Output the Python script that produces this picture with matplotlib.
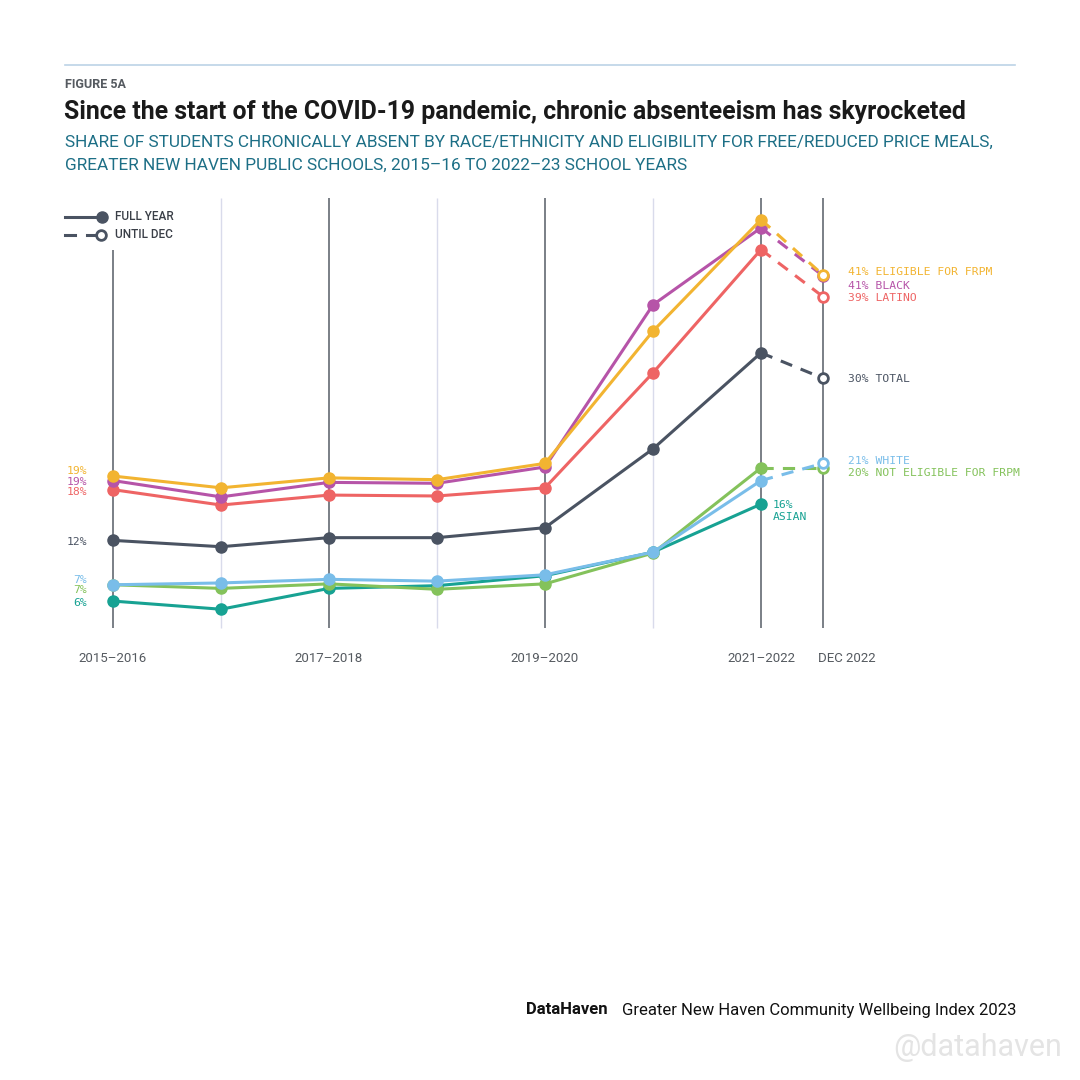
#!/usr/bin/env python3
"""Figure 5A: chronic absenteeism in Greater New Haven public schools."""

import matplotlib

matplotlib.use("Agg")
import matplotlib.pyplot as plt
from matplotlib.lines import Line2D

# ---- data -----------------------------------------------------------------
YEARS = ["2015–2016", "2016–2017", "2017–2018", "2018–2019", "2019–2020", "2020–2021", "2021–2022"]
YEAR_TICKS = ["2015–2016", "", "2017–2018", "", "2019–2020", "", "2021–2022"]
DEC_LABEL = "DEC 2022"

TOTAL = [12.1, 11.4, 12.4, 12.4, 13.5, 22.2, 32.8]
TOTAL_DEC = 30.0
FRPM_ELIGIBLE = [19.2, 17.9, 19.0, 18.8, 20.6, 35.2, 47.5]
FRPM_ELIGIBLE_DEC = 41.4
BLACK = [18.7, 16.9, 18.5, 18.4, 20.2, 38.1, 46.6]
BLACK_DEC = 41.3
LATINO = [17.7, 16.0, 17.1, 17.0, 17.9, 30.6, 44.2]
LATINO_DEC = 39.0
WHITE = [7.2, 7.4, 7.8, 7.6, 8.3, 10.8, 18.7]
WHITE_DEC = 20.6
NOT_ELIGIBLE = [7.2, 6.8, 7.3, 6.7, 7.3, 10.7, 20.1]
NOT_ELIGIBLE_DEC = 20.1
ASIAN = [5.4, 4.5, 6.8, 7.1, 8.2, 10.8, 16.1]

START_LABELS = {"total": "12%", "frpm": "19%", "black": "19%", "latino": "18%",
                "white": "7%", "not_frpm": "7%", "asian": "6%"}
END_LABELS = {"total": "30% TOTAL", "frpm": "41% ELIGIBLE FOR FRPM", "black": "41% BLACK",
              "latino": "39% LATINO", "white": "21% WHITE", "not_frpm": "20% NOT ELIGIBLE FOR FRPM",
              "asian": "16%\nASIAN"}

# ---- style ----------------------------------------------------------------
COLORS = {
    "total": "#4a5362",
    "frpm": "#f2b431",
    "black": "#b654a8",
    "latino": "#ee6464",
    "white": "#79bde9",
    "not_frpm": "#84c25b",
    "asian": "#17a293",
}
TEAL_TEXT = "#1d6f86"
GRID_DARK = "#70757d"
GRID_LIGHT = "#d9dbeb"
LABEL_FONT = ["DejaVu Sans Mono"]
SANS = ["Roboto", "DejaVu Sans"]

W = H = 1080
PX_PER_YEAR = 108.0
PX_PER_PCT = 9.06
X0_PX, ZERO_PX = 113, 650
DEC_POS = len(YEARS) - 1 + 62 / PX_PER_YEAR

# label nudges in pixels
START_NUDGE = {"frpm": 5, "black": -1, "latino": -2, "total": -2,
               "white": 5, "not_frpm": -5, "asian": -2}
END_NUDGE = {"frpm": 3, "black": -10, "latino": -1, "total": -1,
             "white": 2, "not_frpm": -5}


def fx(px):
    return px / W


def fy(py):
    return 1 - py / H


def to_x(px):
    return (px - X0_PX) / PX_PER_YEAR


def to_y(py):
    return (ZERO_PX - py) / PX_PER_PCT


fig = plt.figure(figsize=(W / 100, H / 100), dpi=100)
fig.patch.set_facecolor("white")

# header
fig.add_artist(Line2D([fx(65), fx(1015)], [fy(65), fy(65)], color="#bcd3e6", lw=1.2))
fig.text(fx(65), fy(85), "FIGURE 5A", family=SANS, fontsize=9, fontweight="bold",
         color="#555a60", va="center")
fig.text(fx(64), fy(112), "Since the start of the COVID-19 pandemic, chronic absenteeism has skyrocketed",
         family=SANS, fontsize=17.9, fontweight="bold", color="#1a1a1a", va="center")
fig.text(fx(65), fy(142), "SHARE OF STUDENTS CHRONICALLY ABSENT BY RACE/ETHNICITY AND ELIGIBILITY FOR FREE/REDUCED PRICE MEALS,",
         family=SANS, fontsize=12.4, color=TEAL_TEXT, va="center")
fig.text(fx(65), fy(165), "GREATER NEW HAVEN PUBLIC SCHOOLS, 2015–16 TO 2022–23 SCHOOL YEARS",
         family=SANS, fontsize=12.4, color=TEAL_TEXT, va="center")

# axes laid out in pixel space
ax = fig.add_axes([fx(65), fy(650), fx(1015) - fx(65), (650 - 198) / H])
ax.set_xlim(to_x(65), to_x(1015))
ax.set_ylim(0, to_y(198))
ax.axis("off")

x = list(range(len(YEARS)))
grid_positions = x + [DEC_POS]
for i, pos in enumerate(grid_positions):
    dark = i % 2 == 0 or pos == DEC_POS
    top = to_y(250) if i == 0 else to_y(198)
    ax.vlines(pos, to_y(628), top, color=GRID_DARK if dark else GRID_LIGHT,
              lw=1.3 if dark else 1.0, zorder=1)

for i, lab in enumerate(YEAR_TICKS):
    if lab:
        ax.text(x[i], to_y(659), lab, ha="center", va="center", family=SANS,
                fontsize=9.5, color="#555a60")
ax.text(DEC_POS - 5 / PX_PER_YEAR, to_y(659), DEC_LABEL, ha="left", va="center",
        family=SANS, fontsize=9.5, color="#555a60")

series = [
    ("asian", ASIAN, None),
    ("not_frpm", NOT_ELIGIBLE, NOT_ELIGIBLE_DEC),
    ("white", WHITE, WHITE_DEC),
    ("total", TOTAL, TOTAL_DEC),
    ("latino", LATINO, LATINO_DEC),
    ("black", BLACK, BLACK_DEC),
    ("frpm", FRPM_ELIGIBLE, FRPM_ELIGIBLE_DEC),
]

for z, (key, vals, dec) in enumerate(series):
    c = COLORS[key]
    ax.plot(x, vals, color=c, lw=2.2, marker="o", ms=8, mec=c, mfc=c,
            zorder=3 + z, solid_capstyle="round")
    if dec is not None:
        ax.plot([x[-1], DEC_POS], [vals[-1], dec], color=c, lw=2.2,
                dashes=(4, 3), zorder=3 + z)
        ax.plot([DEC_POS], [dec], marker="o", ms=7, mfc="white", mec=c,
                mew=2, zorder=12 + z, ls="none")
    # start label
    ax.annotate(START_LABELS[key], (x[0], vals[0]), xytext=(-26, START_NUDGE[key]),
                textcoords="offset pixels", ha="right", va="center",
                family=LABEL_FONT, fontsize=8.2, color=c)
    # end label
    if dec is not None:
        ax.annotate(END_LABELS[key], (DEC_POS, dec), xytext=(25, END_NUDGE[key]),
                    textcoords="offset pixels", ha="left", va="center",
                    family=LABEL_FONT, fontsize=8.2, color=c)
    else:
        ax.annotate(END_LABELS[key], (x[-1], vals[-1]), xytext=(12, -7),
                    textcoords="offset pixels", ha="left", va="center",
                    family=LABEL_FONT, fontsize=8.2, color=c, linespacing=1.3)

# legend
fig.add_artist(Line2D([fx(65), fx(102)], [fy(217), fy(217)], color=COLORS["total"], lw=2.2))
fig.add_artist(Line2D([fx(102)], [fy(217)], marker="o", ms=8, color=COLORS["total"], ls="none"))
fig.add_artist(Line2D([fx(65), fx(75)], [fy(235), fy(235)], color=COLORS["total"], lw=2.2))
fig.add_artist(Line2D([fx(87), fx(97)], [fy(235), fy(235)], color=COLORS["total"], lw=2.2))
fig.add_artist(Line2D([fx(101)], [fy(235)], marker="o", ms=7, mfc="white",
                      mec=COLORS["total"], mew=2, ls="none"))
fig.text(fx(115), fy(217), "FULL YEAR", family=SANS, fontsize=8.5, fontweight="medium",
         color="#3a3f47", va="center")
fig.text(fx(115), fy(235), "UNTIL DEC", family=SANS, fontsize=8.5, fontweight="medium",
         color="#3a3f47", va="center")

# footer
fig.text(fx(526), fy(1010), "DataHaven", family=SANS, fontsize=12, fontweight="bold",
         color="#111111", va="center")
fig.text(fx(1016), fy(1010), "Greater New Haven Community Wellbeing Index 2023", family=SANS,
         fontsize=12, color="#111111", va="center", ha="right")
fig.text(fx(1062), fy(1047), "@datahaven", family=SANS, fontsize=22, color="#e4e4e4",
         va="center", ha="right")

fig.savefig("out.png", dpi=100, facecolor="white")
